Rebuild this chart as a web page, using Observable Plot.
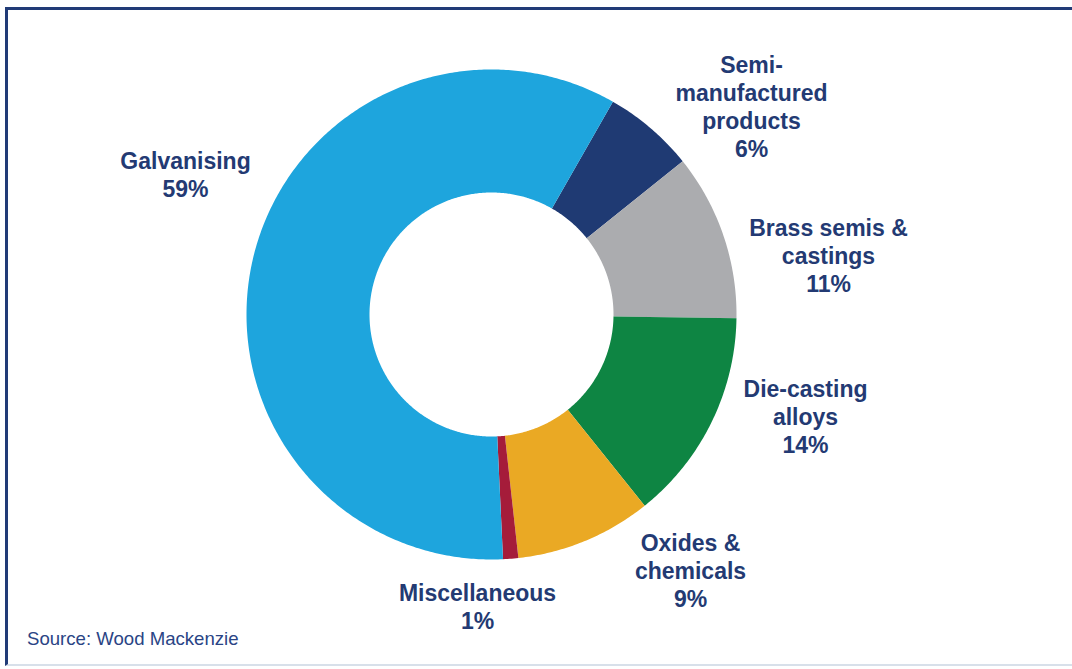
<!DOCTYPE html>
<html>
<head>
<meta charset="utf-8">
<script src="https://cdn.jsdelivr.net/npm/d3@7"></script>
<script src="https://cdn.jsdelivr.net/npm/@observablehq/plot@0.6"></script>
<style>
  html, body { margin: 0; padding: 0; background: #fff; overflow: hidden; }
  body { width: 1072px; height: 669px; position: relative; font-family: "Liberation Sans", Arial, sans-serif; }
  #frame { position: absolute; left: 5px; top: 7px; width: 1100px; height: 659px;
           border-left: 3px solid #213B77; border-top: 3px solid #213B77; border-bottom: 2px solid #D8E0EA; box-sizing: border-box; }
  #chart { position: absolute; left: 0; top: 0; }
  #caption { position: absolute; left: 27px; top: 628px; font-size: 18.6px; line-height: 22px; color: #2A4485; }
</style>
</head>
<body>
<div id="frame"></div>
<div id="chart"></div>
<div id="caption">Source: Wood Mackenzie</div>
<script>
// Data (clockwise order starting at the top-right)
const categories = ["Semi-manufactured products", "Brass semis & castings", "Die-casting alloys", "Oxides & chemicals", "Miscellaneous", "Galvanising"];
const shares = [6, 11, 14, 9, 1, 59];
const labelLines = [
  "Semi-\nmanufactured\nproducts\n6%",
  "Brass semis &\ncastings\n11%",
  "Die-casting\nalloys\n14%",
  "Oxides &\nchemicals\n9%",
  "Miscellaneous\n1%",
  "Galvanising\n59%"
];
const colors = ["#1F3A73", "#ABACAF", "#0E8543", "#EAA924", "#A51C3A", "#1EA5DD"];

// Layout (not data)
const W = 1072, H = 628;
const cx = 491, cy = 314, R = 245, r0 = 122;
const startDeg = 29.7;
const labelPos = [[751, 106], [828, 255], [805, 416], [690, 570], [477, 606], [185, 174]];

const rows = categories.map((c, i) => ({name: c, value: shares[i]}));
const pie = d3.pie().value(d => d.value).sort(null)
  .startAngle(startDeg * Math.PI / 180)
  .endAngle(startDeg * Math.PI / 180 + 2 * Math.PI);
const arcs = pie(rows);

const pts = [];
arcs.forEach(a => {
  const n = Math.max(4, Math.ceil((a.endAngle - a.startAngle) / 0.01));
  for (let k = 0; k <= n; k++) {
    const t = a.startAngle + (a.endAngle - a.startAngle) * k / n;
    pts.push({name: a.data.name, x: cx + R * Math.sin(t), y: cy - R * Math.cos(t)});
  }
  for (let k = n; k >= 0; k--) {
    const t = a.startAngle + (a.endAngle - a.startAngle) * k / n;
    pts.push({name: a.data.name, x: cx + r0 * Math.sin(t), y: cy - r0 * Math.cos(t)});
  }
});

const labels = categories.map((c, i) => ({text: labelLines[i], x: labelPos[i][0], y: labelPos[i][1]}));

const plot = Plot.plot({
  width: W, height: H,
  margin: 0,
  x: {domain: [0, W], range: [0, W], axis: null},
  y: {domain: [0, H], range: [0, H], axis: null},
  color: {domain: categories, range: colors},
  style: {background: "transparent", overflow: "visible"},
  marks: [
    Plot.line(pts, {x: "x", y: "y", z: "name", fill: "name", stroke: "none", curve: "linear"}),
    Plot.text(labels, {x: "x", y: "y", text: "text", fill: "#233A73", fontSize: 23, fontWeight: "bold",
      fontFamily: "Liberation Sans, Arial, sans-serif", lineHeight: 28/23, textAnchor: "middle"})
  ]
});
document.getElementById("chart").appendChild(plot);
</script>
</body>
</html>
